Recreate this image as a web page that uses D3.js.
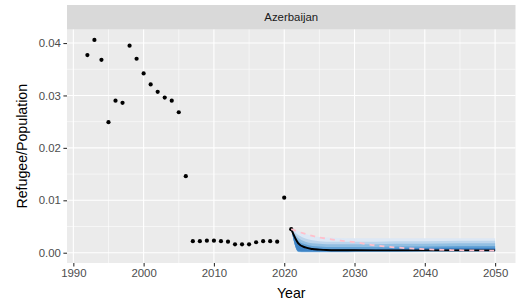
<!DOCTYPE html>
<html>
<head>
<meta charset="utf-8">
<script src="https://cdn.jsdelivr.net/npm/d3@7"></script>
<style>
  body { margin: 0; background: #ffffff; }
  svg { display: block; font-family: "Liberation Sans", Arial, sans-serif; }
</style>
</head>
<body>
<div id="viz"></div>
<script>
// observed refugee / population ratio
var obsYears = [1992, 1993, 1994, 1995, 1996, 1997, 1998, 1999, 2000, 2001,
  2002, 2003, 2004, 2005, 2006, 2007, 2008, 2009, 2010, 2011,
  2012, 2013, 2014, 2015, 2016, 2017, 2018, 2019, 2020, 2021];
var obsValues = [0.0377, 0.0406, 0.0368, 0.0249, 0.0290, 0.0286, 0.0395, 0.0370, 0.0342, 0.0321,
  0.0307, 0.0296, 0.0290, 0.0268, 0.0146, 0.0022, 0.0022, 0.0023, 0.0023, 0.0022,
  0.0021, 0.0016, 0.0016, 0.0016, 0.0020, 0.0022, 0.0022, 0.0021, 0.0105, 0.0045];

// projection
var projYears = [2021, 2022, 2023, 2024, 2025, 2026, 2028, 2030, 2033, 2036, 2040, 2045, 2050];
var projMedian = [0.0045, 0.0018, 0.0010, 0.0007, 0.0006, 0.00053, 0.00048, 0.00046, 0.00045, 0.00045, 0.00045, 0.00045, 0.00045];
var projPink = [0.0045, 0.0040, 0.0036, 0.0032, 0.0029, 0.0027, 0.0023, 0.0020, 0.0014, 0.0010, 0.00067, 0.00048, 0.00038];

// prediction bands, outer to inner
var bandHi = [
  [0.0045, 0.0042, 0.0036, 0.0032, 0.0030, 0.0029, 0.0028, 0.00275, 0.00275, 0.00275, 0.00275, 0.00275, 0.00275],
  [0.0045, 0.0034, 0.0027, 0.0024, 0.0022, 0.0021, 0.0021, 0.0021, 0.0021, 0.0022, 0.0022, 0.0023, 0.0023],
  [0.0045, 0.0028, 0.0021, 0.0018, 0.0017, 0.0016, 0.0016, 0.0016, 0.0016, 0.0017, 0.0017, 0.0018, 0.0018],
  [0.0045, 0.0023, 0.0016, 0.0013, 0.0012, 0.0011, 0.0011, 0.0011, 0.0011, 0.0012, 0.0012, 0.0013, 0.0013],
  [0.0045, 0.0020, 0.0012, 0.0009, 0.0008, 0.0007, 0.0007, 0.0007, 0.0007, 0.0008, 0.0009, 0.00095, 0.00095]
];
var bandLo = [
  [0.0045, 0.0001, 0.00005, 0.00005, 0.00005, 0.00005, 0.00005, 0.0001, 0.0001, 0.0001, 0.00015, 0.0002, 0.0002],
  [0.0045, 0.00015, 0.0001, 0.0001, 0.0001, 0.0001, 0.0001, 0.00015, 0.00015, 0.00015, 0.0002, 0.00022, 0.00022],
  [0.0045, 0.0002, 0.00015, 0.00015, 0.00015, 0.00015, 0.00015, 0.0002, 0.0002, 0.0002, 0.00025, 0.00025, 0.00025],
  [0.0045, 0.00025, 0.0002, 0.0002, 0.0002, 0.0002, 0.0002, 0.00025, 0.00025, 0.00025, 0.0003, 0.0003, 0.0003],
  [0.0045, 0.0003, 0.00025, 0.00025, 0.00025, 0.00025, 0.00025, 0.0003, 0.0003, 0.0003, 0.00032, 0.00032, 0.00032]
];
var bandColors = ["#dde8f5", "#bcd5ec", "#92bfe2", "#65a3d6", "#3f84c6"];

var xTicks = [1990, 2000, 2010, 2020, 2030, 2040, 2050];
var xMinor = [1995, 2005, 2015, 2025, 2035, 2045];
var yTicks = [0, 0.01, 0.02, 0.03, 0.04];
var yMinor = [0.005, 0.015, 0.025, 0.035];
var panelTitle = "Azerbaijan";

// dimensions
var w = 516;
var h = 304;
var panel = { left: 67, right: 515.5, top: 29.5, bottom: 263 };
var stripTop = 5;

var x = d3.scaleLinear().domain([1989.1, 2052.9]).range([panel.left, panel.right]);
var y = d3.scaleLinear().domain([-0.00196, 0.04258]).range([panel.bottom, panel.top]);

var svg = d3.select("div#viz")
  .append("svg")
  .attr("width", w)
  .attr("height", h);

// panel background
svg.append("rect")
  .attr("x", panel.left)
  .attr("y", panel.top)
  .attr("width", panel.right - panel.left)
  .attr("height", panel.bottom - panel.top)
  .attr("fill", "#ebebeb");

// strip
svg.append("rect")
  .attr("x", panel.left)
  .attr("y", stripTop)
  .attr("width", panel.right - panel.left)
  .attr("height", panel.top - stripTop)
  .attr("fill", "#d9d9d9");

svg.append("text").text(panelTitle)
  .attr("x", (panel.left + panel.right) / 2)
  .attr("y", 21)
  .attr("fill", "#1a1a1a")
  .style("font-size", "11.4px")
  .style("text-anchor", "middle");

// grid lines
var grid = svg.append("g");
grid.selectAll(".xminor").data(xMinor).enter().append("line")
  .attr("x1", function (d) { return x(d); })
  .attr("x2", function (d) { return x(d); })
  .attr("y1", panel.top).attr("y2", panel.bottom)
  .attr("stroke", "#ffffff").attr("stroke-width", 0.55);
grid.selectAll(".yminor").data(yMinor).enter().append("line")
  .attr("y1", function (d) { return y(d); })
  .attr("y2", function (d) { return y(d); })
  .attr("x1", panel.left).attr("x2", panel.right)
  .attr("stroke", "#ffffff").attr("stroke-width", 0.55);
grid.selectAll(".xmajor").data(xTicks).enter().append("line")
  .attr("x1", function (d) { return x(d); })
  .attr("x2", function (d) { return x(d); })
  .attr("y1", panel.top).attr("y2", panel.bottom)
  .attr("stroke", "#ffffff").attr("stroke-width", 1.1);
grid.selectAll(".ymajor").data(yTicks).enter().append("line")
  .attr("y1", function (d) { return y(d); })
  .attr("y2", function (d) { return y(d); })
  .attr("x1", panel.left).attr("x2", panel.right)
  .attr("stroke", "#ffffff").attr("stroke-width", 1.1);

// ribbons
var curve = d3.curveMonotoneX;
bandHi.forEach(function (hi, k) {
  var area = d3.area()
    .curve(curve)
    .x(function (d, i) { return x(projYears[i]); })
    .y0(function (d, i) { return y(bandLo[k][i]); })
    .y1(function (d) { return y(d); });
  svg.append("path")
    .datum(hi)
    .attr("d", area)
    .attr("fill", bandColors[k]);
});

// median projection
var line = d3.line()
  .curve(curve)
  .x(function (d, i) { return x(projYears[i]); })
  .y(function (d) { return y(d); });

svg.append("path")
  .datum(projMedian)
  .attr("d", line)
  .attr("fill", "none")
  .attr("stroke", "#000000")
  .attr("stroke-width", 1.9);

// points
svg.selectAll(".pt").data(obsValues).enter().append("circle")
  .attr("cx", function (d, i) { return x(obsYears[i]); })
  .attr("cy", function (d) { return y(d); })
  .attr("r", 2.1)
  .attr("fill", "#000000");

// pink dashed projection
svg.append("path")
  .datum(projPink)
  .attr("d", line)
  .attr("fill", "none")
  .attr("stroke", "#ffc0cb")
  .attr("stroke-width", 1.8)
  .attr("stroke-dasharray", "5,5");

// axes
var xAxis = d3.axisBottom(x).tickValues(xTicks).tickSize(3.6).tickPadding(2.5).tickFormat(d3.format("d"));
var gx = svg.append("g").attr("transform", "translate(0," + panel.bottom + ")").call(xAxis);

var yAxis = d3.axisLeft(y).tickValues(yTicks).tickSize(3.6).tickPadding(2.5).tickFormat(d3.format(".2f"));
var gy = svg.append("g").attr("transform", "translate(" + panel.left + ",0)").call(yAxis);

[gx, gy].forEach(function (g) {
  g.select(".domain").remove();
  g.selectAll(".tick line").attr("stroke", "#333333").attr("stroke-width", 1.1);
  g.selectAll(".tick text")
    .attr("fill", "#4d4d4d")
    .style("font-size", "11.4px")
    .style("font-family", "'Liberation Sans', Arial, sans-serif");
});

// axis titles
svg.append("text").text("Year")
  .attr("x", (panel.left + panel.right) / 2)
  .attr("y", 297.5)
  .attr("fill", "#000000")
  .style("font-size", "14.2px")
  .style("text-anchor", "middle");

svg.append("text").text("Refugee/Population")
  .attr("x", 0 - (panel.top + panel.bottom) / 2)
  .attr("y", 27)
  .attr("fill", "#000000")
  .style("font-size", "14.2px")
  .style("text-anchor", "middle")
  .attr("transform", "rotate(-90)");
</script>
</body>
</html>
